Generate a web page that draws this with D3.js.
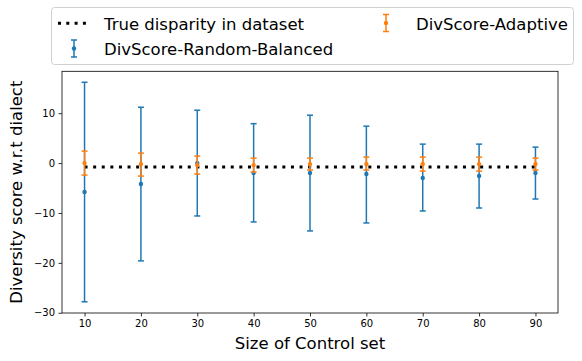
<!DOCTYPE html>
<html>
<head>
<meta charset="utf-8">
<script src="https://cdn.jsdelivr.net/npm/d3@7"></script>
<style>
  body { margin: 0; background: #fff; }
  svg text { font-family: "DejaVu Sans", sans-serif; }
</style>
</head>
<body>
<div id="chart"></div>
<script>
// data
var sizes = [10, 20, 30, 40, 50, 60, 70, 80, 90];
var randMean = [-5.8, -4.2, 0.0, -2.0, -2.0, -2.2, -3.0, -2.6, -2.0];
var randLow = [-27.8, -19.6, -10.6, -11.8, -13.6, -12.0, -9.6, -9.0, -7.2];
var randHigh = [16.2, 11.2, 10.6, 7.9, 9.6, 7.4, 3.8, 3.8, 3.2];
var adaMean = [0.0, -0.2, -0.4, -0.4, -0.2, -0.2, -0.2, -0.2, -0.2];
var adaLow = [-2.4, -2.6, -2.2, -1.8, -1.4, -1.4, -1.6, -1.6, -1.4];
var adaHigh = [2.4, 2.0, 1.4, 1.0, 1.0, 1.2, 1.2, 1.2, 1.0];
var trueDisparity = -0.8;
var yTicks = [-30, -20, -10, 0, 10];

var W = 582, H = 361;
var margin = { top: 71.3, right: 24, bottom: 48, left: 62 };

var svg = d3.select("#chart").append("svg")
  .attr("width", W).attr("height", H);

var x = d3.scaleLinear().domain([6, 94]).range([margin.left, W - margin.right]);
var y = d3.scaleLinear().domain([-30.05, 18.4]).range([H - margin.bottom, margin.top]);

// axes
var xAxis = d3.axisBottom(x).tickValues(sizes).tickSizeOuter(0).tickSize(3.5).tickPadding(3.5);
var yAxis = d3.axisLeft(y).tickValues(yTicks).tickSizeOuter(0).tickSize(3.5).tickPadding(3.5);

var gx = svg.append("g")
  .attr("transform", "translate(0," + (H - margin.bottom) + ")")
  .call(xAxis);
var gy = svg.append("g")
  .attr("transform", "translate(" + margin.left + ",0)")
  .call(yAxis);
[gx, gy].forEach(function (g) {
  g.select(".domain").remove();
  g.selectAll("line").attr("stroke", "#000").attr("stroke-width", 0.8);
  g.selectAll("text").attr("fill", "#000").style("font-size", "10px");
});

// frame
svg.append("rect")
  .attr("x", margin.left).attr("y", margin.top)
  .attr("width", W - margin.right - margin.left)
  .attr("height", H - margin.bottom - margin.top)
  .attr("fill", "none").attr("stroke", "#000").attr("stroke-width", 0.8);

// true disparity line
svg.append("line")
  .attr("x1", x(sizes[0])).attr("x2", x(sizes[sizes.length - 1]))
  .attr("y1", y(trueDisparity)).attr("y2", y(trueDisparity))
  .attr("stroke", "#000").attr("stroke-width", 3)
  .attr("stroke-dasharray", "3,5.6");

function errorBars(mean, low, high, color) {
  var g = svg.append("g");
  var rows = sizes.map(function (s, i) {
    return { s: s, m: mean[i], lo: low[i], hi: high[i] };
  });
  var bar = g.selectAll("g").data(rows).enter().append("g");
  bar.append("line")
    .attr("x1", function (d) { return x(d.s); })
    .attr("x2", function (d) { return x(d.s); })
    .attr("y1", function (d) { return y(d.lo); })
    .attr("y2", function (d) { return y(d.hi); })
    .attr("stroke", color).attr("stroke-width", 1.5);
  ["lo", "hi"].forEach(function (k) {
    bar.append("line")
      .attr("x1", function (d) { return x(d.s) - 3; })
      .attr("x2", function (d) { return x(d.s) + 3; })
      .attr("y1", function (d) { return y(d[k]); })
      .attr("y2", function (d) { return y(d[k]); })
      .attr("stroke", color).attr("stroke-width", 1.5);
  });
  bar.append("circle")
    .attr("cx", function (d) { return x(d.s); })
    .attr("cy", function (d) { return y(d.m); })
    .attr("r", 2.2)
    .attr("fill", color);
}
errorBars(randMean, randLow, randHigh, "#1f77b4");
errorBars(adaMean, adaLow, adaHigh, "#ff7f0e");

// axis labels
svg.append("text")
  .attr("x", (margin.left + W - margin.right) / 2).attr("y", 348.5)
  .attr("text-anchor", "middle").style("font-size", "16.5px")
  .text("Size of Control set");
svg.append("text")
  .attr("transform", "translate(22," + (margin.top + H - margin.bottom) / 2 + ") rotate(-90)")
  .attr("text-anchor", "middle").style("font-size", "16.5px")
  .text("Diversity score w.r.t dialect");

// legend
var leg = svg.append("g");
leg.append("rect")
  .attr("x", 51.5).attr("y", 7.5).attr("width", 522).attr("height", 57)
  .attr("rx", 3).attr("fill", "#fff").attr("fill-opacity", 0.8)
  .attr("stroke", "#d0d0d0").attr("stroke-width", 1);

leg.append("line")
  .attr("x1", 58).attr("x2", 89).attr("y1", 23.3).attr("y2", 23.3)
  .attr("stroke", "#000").attr("stroke-width", 3).attr("stroke-dasharray", "3,5.3");

function legIcon(cx, cy, color) {
  leg.append("line").attr("x1", cx).attr("x2", cx).attr("y1", cy - 8.5).attr("y2", cy + 8.5)
    .attr("stroke", color).attr("stroke-width", 1.5);
  [cy - 8.5, cy + 8.5].forEach(function (yy) {
    leg.append("line").attr("x1", cx - 3).attr("x2", cx + 3).attr("y1", yy).attr("y2", yy)
      .attr("stroke", color).attr("stroke-width", 1.5);
  });
  leg.append("circle").attr("cx", cx).attr("cy", cy).attr("r", 2.2).attr("fill", color);
}
legIcon(74, 48.5, "#1f77b4");
legIcon(386, 23, "#ff7f0e");

var legText = [
  { x: 104, y: 29.5, t: "True disparity in dataset" },
  { x: 104, y: 55, t: "DivScore-Random-Balanced" },
  { x: 416, y: 29.5, t: "DivScore-Adaptive" }
];
leg.selectAll("text.lt").data(legText).enter().append("text")
  .attr("class", "lt")
  .attr("x", function (d) { return d.x; })
  .attr("y", function (d) { return d.y; })
  .style("font-size", "16.5px")
  .text(function (d) { return d.t; });
</script>
</body>
</html>
